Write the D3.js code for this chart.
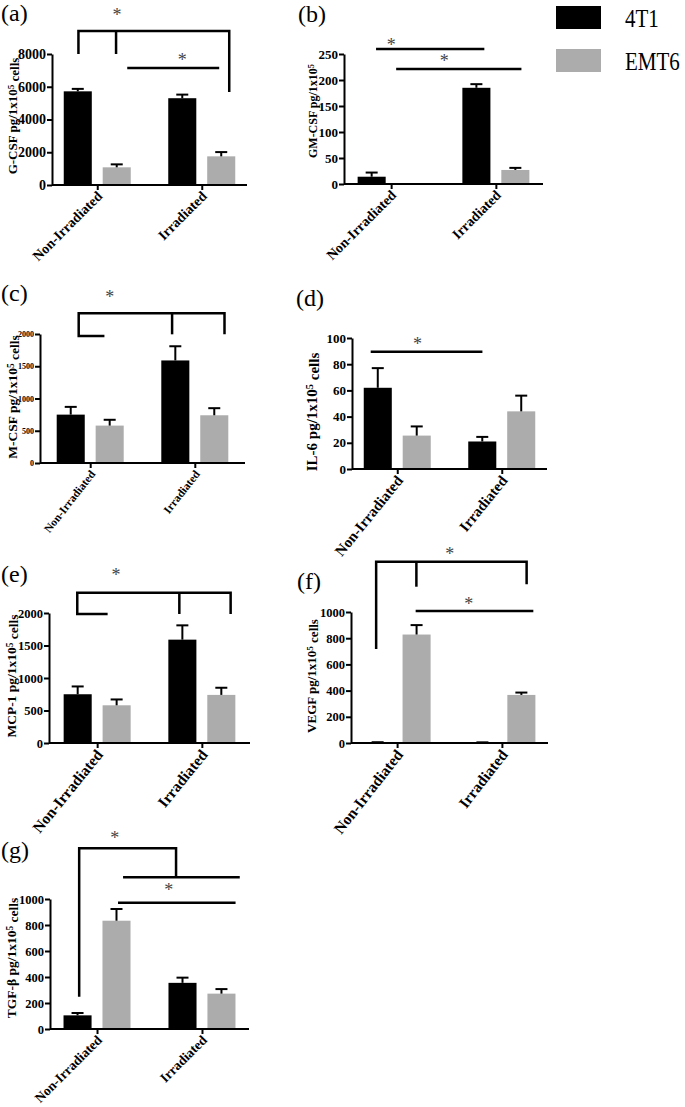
<!DOCTYPE html>
<html>
<head>
<meta charset="utf-8">
<script src="https://cdn.jsdelivr.net/npm/d3@7"></script>
<style>
body{margin:0;background:#fff;}
text{font-family:"Liberation Serif","Times New Roman",serif;}
</style>
</head>
<body>
<div id="chart"></div>
<script>
// categories and series
var groups = ["Non-Irradiated", "Irradiated"];
var series = ["4T1", "EMT6"];
var seriesColor = ["#000000", "#acacac"];

// values (mean, error bar height)
var gcsf4T1 = [5720, 5300], gcsf4T1Err = [150, 220];
var gcsfEMT6 = [1080, 1750], gcsfEMT6Err = [180, 260];

var gmcsf4T1 = [14, 185], gmcsf4T1Err = [8, 7];
var gmcsfEMT6 = [0, 27], gmcsfEMT6Err = [0, 4];

var mcsf4T1 = [750, 1590], mcsf4T1Err = [120, 220];
var mcsfEMT6 = [580, 740], mcsfEMT6Err = [90, 110];

var il64T1 = [62, 21], il64T1Err = [15, 3.5];
var il6EMT6 = [25.5, 44], il6EMT6Err = [7, 12];

var mcp4T1 = [750, 1590], mcp4T1Err = [120, 220];
var mcpEMT6 = [580, 740], mcpEMT6Err = [90, 110];

var vegf4T1 = [5, 4], vegf4T1Err = [1, 1];
var vegfEMT6 = [828, 367], vegfEMT6Err = [72, 18];

var tgf4T1 = [105, 355], tgf4T1Err = [18, 40];
var tgfEMT6 = [833, 272], tgfEMT6Err = [90, 35];

// y ticks
var gcsfTicks = [0, 2000, 4000, 6000, 8000];
var gmcsfTicks = [0, 50, 100, 150, 200, 250];
var mcsfTicks = [0, 500, 1000, 1500, 2000];
var il6Ticks = [0, 20, 40, 60, 80, 100];
var mcpTicks = [0, 500, 1000, 1500, 2000];
var vegfTicks = [0, 200, 400, 600, 800, 1000];
var tgfTicks = [0, 200, 400, 600, 800, 1000];

// significance marks: [group position, value]
var gcsfLines = [[[-0.18,8000],[-0.18,9400],[1.263,9400],[1.263,5680]], [[0.18,9400],[0.18,8000]], [[0.287,7145],[1.167,7145]]];
var gcsfStars = [[0.19,10500],[0.813,7755]];
var gmcsfLines = [[[-0.144,259.6],[0.89,259.6]], [[0.048,221],[1.244,221]]];
var gmcsfStars = [[0,271],[0.507,240]];
var mcsfLines = [[[0.136,1969],[-0.11,1969],[-0.11,2321],[1.284,2321],[1.284,1995]], [[0.783,2321],[0.783,1995]]];
var mcsfStars = [[0.187,2605]];
var il6Lines = [[[-0.254,89.5],[0.815,89.5]]];
var il6Stars = [[0.193,97.2]];
var mcpLines = [[[0.1,1985],[-0.19,1985],[-0.19,2312],[1.275,2312],[1.275,1985]], [[0.785,2312],[0.785,1985]]];
var mcpStars = [[0.18,2620]];
var vegfLines = [[[-0.2,718],[-0.2,1384],[1.236,1384],[1.236,1211]], [[0.184,1384],[0.184,1193]], [[0.177,1008],[1.30,1008]]];
var vegfStars = [[0.502,1460],[0.684,1079]];
var tgfLines = [[[-0.17,248],[-0.17,1390],[0.753,1390],[0.753,1167]], [[0.248,1167],[1.36,1167]], [[0.2,972],[1.32,972]]];
var tgfStars = [[0.17,1485],[0.683,1082]];

var svg = d3.select("#chart").append("svg")
	.attr("width", 685)
	.attr("height", 1107)
	.style("background", "#fff");

//Draw one panel-------------------------------------------------------------
function DrawPanel(p)
{
	var g = svg.append("g");
	var yMax = p.ticks[p.ticks.length - 1];

	var y = d3.scaleLinear().domain([0, yMax]).range([p.yZero, p.yTop]);
	var xg = d3.scalePoint().domain(groups).range([p.ax, p.axEnd]).padding(p.pad);
	var xs = d3.scaleBand().domain(series).range([-33.5, 33.5]).paddingInner(0.28);
	var xi = d3.scaleLinear().domain([0, 1]).range([xg(groups[0]), xg(groups[1])]);
	var bw = xs.bandwidth();

	// bars
	var rows = [];
	groups.forEach(function(gr, i){
		rows.push({g: gr, s: 0, v: p.a[i], e: p.aErr[i]});
		rows.push({g: gr, s: 1, v: p.b[i], e: p.bErr[i]});
	});

	g.selectAll("rect.bar").data(rows.filter(function(d){ return d.v > 0; }))
		.enter().append("rect")
		.attr("x", function(d){ return xg(d.g) + xs(series[d.s]); })
		.attr("y", function(d){ return y(d.v); })
		.attr("width", bw)
		.attr("height", function(d){ return y(0) - y(d.v); })
		.attr("fill", function(d){ return seriesColor[d.s]; });

	// error bars
	var eb = g.selectAll("g.err").data(rows.filter(function(d){ return d.e > 0; }))
		.enter().append("g");
	eb.append("line")
		.attr("x1", function(d){ return xg(d.g) + xs(series[d.s]) + bw / 2; })
		.attr("x2", function(d){ return xg(d.g) + xs(series[d.s]) + bw / 2; })
		.attr("y1", function(d){ return y(d.v); })
		.attr("y2", function(d){ return y(d.v + d.e); })
		.attr("stroke", "#000").attr("stroke-width", 2);
	eb.append("line")
		.attr("x1", function(d){ return xg(d.g) + xs(series[d.s]) + bw / 2 - 6; })
		.attr("x2", function(d){ return xg(d.g) + xs(series[d.s]) + bw / 2 + 6; })
		.attr("y1", function(d){ return y(d.v + d.e); })
		.attr("y2", function(d){ return y(d.v + d.e); })
		.attr("stroke", "#000").attr("stroke-width", 2);

	// y axis
	var yAxis = g.append("g")
		.attr("transform", "translate(" + p.ax + ",0)")
		.call(d3.axisLeft(y).tickValues(p.ticks).tickSize(5).tickSizeOuter(0).tickPadding(1).tickFormat(d3.format("d")));
	yAxis.attr("font-family", null);
	yAxis.selectAll("path, line").attr("stroke", "#000").attr("stroke-width", 2);
	yAxis.selectAll("text")
		.attr("fill", "#000")
		.style("font-weight", "bold")
		.style("font-size", p.tickFont + "px");

	// x axis
	var xAxis = g.append("g")
		.attr("transform", "translate(0," + p.yZero + ")")
		.call(d3.axisBottom(xg).tickSize(5).tickSizeOuter(0).tickFormat(""));
	xAxis.select("path").attr("d", "M" + p.ax + ",0H" + p.axEnd);
	xAxis.selectAll("path, line").attr("stroke", "#000").attr("stroke-width", 2);

	g.selectAll("text.xlab").data(groups).enter().append("text")
		.attr("transform", function(d){
			return "translate(" + (xg(d) + 3) + "," + (p.yZero + 9) + ") rotate(" + (-p.angle) + ")";
		})
		.attr("text-anchor", "end")
		.attr("dy", "0.3em")
		.style("font-weight", "bold")
		.style("font-size", p.xFont + "px")
		.text(function(d){ return d; });

	// y title
	var yt = g.append("text")
		.attr("transform", "translate(" + (p.titleX + p.titleFont * 0.33) + "," + p.titleY + ") rotate(-90)")
		.attr("text-anchor", "middle")
		.style("font-weight", "bold")
		.style("font-size", p.titleFont + "px");
	yt.append("tspan").text(p.title);
	yt.append("tspan").attr("dy", "-0.4em").style("font-size", (p.titleFont * 0.7) + "px").text("5");
	if (p.title2) {
		yt.append("tspan").attr("dy", (p.titleFont * 0.4) + "px").text(p.title2);
	}

	// panel letter
	g.append("text")
		.attr("x", p.lx).attr("y", p.ly)
		.style("font-size", "24px")
		.text(p.letter);

	// significance brackets
	var line = d3.line()
		.x(function(d){ return xi(d[0]); })
		.y(function(d){ return y(d[1]); });
	g.selectAll("path.sig").data(p.lines).enter().append("path")
		.attr("d", line)
		.attr("fill", "none")
		.attr("stroke", "#000")
		.attr("stroke-width", 2.5);
	g.selectAll("text.star").data(p.stars).enter().append("text")
		.attr("x", function(d){ return xi(d[0]); })
		.attr("y", function(d){ return y(d[1]) + 8; })
		.attr("text-anchor", "middle")
		.attr("fill", "#444")
		.style("font-size", "18px")
		.text("*");
}

var panels = [
	{letter:"(a)", a:gcsf4T1, aErr:gcsf4T1Err, b:gcsfEMT6, bErr:gcsfEMT6Err, ticks:gcsfTicks, lines:gcsfLines, stars:gcsfStars,
	 title:"G-CSF pg/1x10", title2:" cells", titleFont:13, ax:52, axEnd:247, yTop:54, yZero:185, pad:0.433, tickFont:14, xFont:14, angle:45,
	 lx:1, ly:21, titleX:13, titleY:116},
	{letter:"(b)", a:gmcsf4T1, aErr:gmcsf4T1Err, b:gmcsfEMT6, bErr:gmcsfEMT6Err, ticks:gmcsfTicks, lines:gmcsfLines, stars:gmcsfStars,
	 title:"GM-CSF pg/1x10", title2:"", titleFont:12, ax:344, axEnd:543, yTop:54, yZero:184, pad:0.45, tickFont:13, xFont:14, angle:45,
	 lx:298, ly:22, titleX:313, titleY:111},
	{letter:"(c)", a:mcsf4T1, aErr:mcsf4T1Err, b:mcsfEMT6, bErr:mcsfEMT6Err, ticks:mcsfTicks, lines:mcsfLines, stars:mcsfStars,
	 title:"M-CSF pg/1x10", title2:" cells", titleFont:13.5, ax:40, axEnd:245, yTop:334, yZero:463, pad:0.48, tickFont:8, xFont:11.5, angle:52,
	 lx:1, ly:301, titleX:13, titleY:397},
	{letter:"(d)", a:il64T1, aErr:il64T1Err, b:il6EMT6, bErr:il6EMT6Err, ticks:il6Ticks, lines:il6Lines, stars:il6Stars,
	 title:"IL-6 pg/1x10", title2:" cells", titleFont:15, ax:352, axEnd:547, yTop:338, yZero:469, pad:0.433, tickFont:13, xFont:15, angle:51,
	 lx:296, ly:306, titleX:312, titleY:412},
	{letter:"(e)", a:mcp4T1, aErr:mcp4T1Err, b:mcpEMT6, bErr:mcpEMT6Err, ticks:mcpTicks, lines:mcpLines, stars:mcpStars,
	 title:"MCP-1 pg/1x10", title2:" cells", titleFont:13.5, ax:49, axEnd:250, yTop:613, yZero:743, pad:0.46, tickFont:12.5, xFont:15.5, angle:51,
	 lx:1, ly:582, titleX:12, titleY:676},
	{letter:"(f)", a:vegf4T1, aErr:vegf4T1Err, b:vegfEMT6, bErr:vegfEMT6Err, ticks:vegfTicks, lines:vegfLines, stars:vegfStars,
	 title:"VEGF pg/1x10", title2:" cells", titleFont:13, ax:351, axEnd:548, yTop:612, yZero:743, pad:0.44, tickFont:12.5, xFont:15.5, angle:52,
	 lx:297, ly:589, titleX:312, titleY:676},
	{letter:"(g)", a:tgf4T1, aErr:tgf4T1Err, b:tgfEMT6, bErr:tgfEMT6Err, ticks:tgfTicks, lines:tgfLines, stars:tgfStars,
	 title:"TGF-\u03b2 pg/1x10", title2:" cells", titleFont:13.5, ax:50, axEnd:249, yTop:899, yZero:1029, pad:0.448, tickFont:12.5, xFont:13.5, angle:45,
	 lx:1, ly:858, titleX:12, titleY:958}
];

panels.forEach(DrawPanel);

// legend
var legend = svg.append("g");
legend.selectAll("rect").data(series).enter().append("rect")
	.attr("x", 556)
	.attr("y", function(d, i){ return 6 + i * 43; })
	.attr("width", 45)
	.attr("height", 23)
	.attr("fill", function(d, i){ return seriesColor[i]; });
legend.selectAll("text").data(series).enter().append("text")
	.attr("transform", function(d, i){ return "translate(625," + (27 + i * 43) + ") scale(1,1.2)"; })
	.style("font-size", "21px")
	.text(function(d){ return d; });
</script>
</body>
</html>
